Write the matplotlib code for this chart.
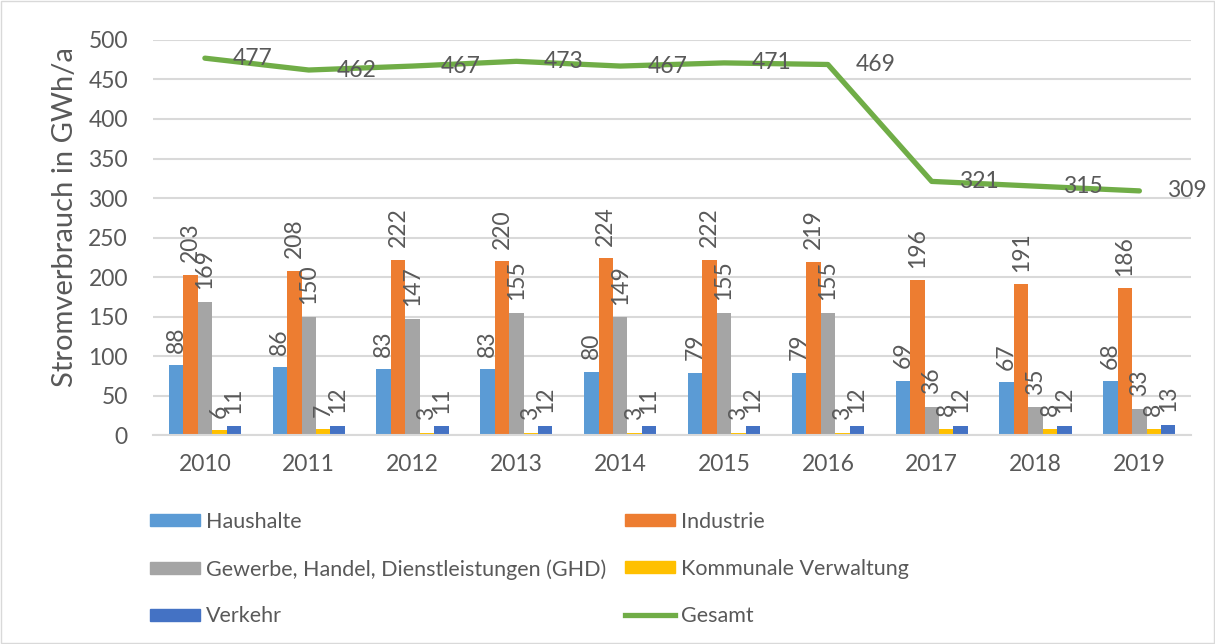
#!/usr/bin/env python3

import numpy as np
import matplotlib.pyplot as plt
from matplotlib.patches import Rectangle
from matplotlib.lines import Line2D

plt.rcParams['font.family'] = ['Lato', 'DejaVu Sans']

# data
years = ['2010', '2011', '2012', '2013', '2014', '2015', '2016', '2017', '2018', '2019']
haushalte = [88, 86, 83, 83, 80, 79, 79, 69, 67, 68]
industrie = [203, 208, 222, 220, 224, 222, 219, 196, 191, 186]
ghd = [169, 150, 147, 155, 149, 155, 155, 36, 35, 33]
kommunal = [6, 7, 3, 3, 3, 3, 3, 8, 8, 8]
verkehr = [11, 12, 11, 12, 11, 12, 12, 12, 12, 13]
gesamt = [477, 462, 467, 473, 467, 471, 469, 321, 315, 309]

series = [
    ('Haushalte', haushalte, '#5B9BD5'),
    ('Industrie', industrie, '#ED7D31'),
    ('Gewerbe, Handel, Dienstleistungen (GHD)', ghd, '#A5A5A5'),
    ('Kommunale Verwaltung', kommunal, '#FFC000'),
    ('Verkehr', verkehr, '#4472C4'),
]
line_color = '#70AD47'
text_color = '#595959'
fs = 16.5

fig = plt.figure(figsize=(12.15, 6.44), dpi=100)
ax = fig.add_axes([0.1259, 0.3245, 0.8546, 0.6134])

x = np.arange(len(years))
bw = 0.139
offsets = (np.arange(len(series)) - 2) * bw

for (name, vals, col), off in zip(series, offsets):
    bars = ax.bar(x + off, vals, width=bw, color=col, label=name, zorder=2)
    for b, v in zip(bars, vals):
        ax.annotate(str(v), (b.get_x() + b.get_width() / 2, v),
                    xytext=(0, 9), textcoords='offset points',
                    rotation=90, ha='center', va='bottom',
                    fontsize=fs, color=text_color)

ax.plot(x, gesamt, color=line_color, lw=3.8, label='Gesamt', zorder=3,
        solid_capstyle='round')
for xi, v in zip(x, gesamt):
    ax.annotate(str(v), (xi, v), xytext=(20, 0), textcoords='offset points',
                ha='left', va='center', fontsize=fs, color=text_color, zorder=4)

ax.set_xlim(-0.5, len(years) - 0.5)
ax.set_ylim(0, 500)
ax.set_yticks(np.arange(0, 501, 50))
ax.set_xticks(x)
ax.set_xticklabels(years)
ax.tick_params(axis='both', length=0, labelsize=fs, colors=text_color)
ax.tick_params(axis='x', pad=14)
ax.tick_params(axis='y', pad=18)
ax.yaxis.grid(True, color='#D9D9D9', lw=1.5, zorder=0)
ax.set_axisbelow(True)
for s in ['top', 'right', 'left']:
    ax.spines[s].set_visible(False)
ax.spines['bottom'].set_color('#D9D9D9')
ax.spines['bottom'].set_linewidth(1.5)
fig.text(65 / 1215, 1 - 217 / 644, 'Stromverbrauch in GWh/a', rotation=90,
         ha='center', va='center', fontsize=21, color=text_color)

# legend: two columns placed separately
handles = [Rectangle((0, 0), 1, 1, color=c) for _, _, c in series]
handles.append(Line2D([0], [0], color=line_color, lw=3.8))
labels = [n for n, _, _ in series] + ['Gesamt']
leg_kw = dict(loc='upper left', frameon=False, fontsize=15.5, handlelength=2.3,
              handleheight=0.5, handletextpad=0.3, labelspacing=1.25,
              borderpad=0, borderaxespad=0, labelcolor=text_color)
for cols, x0 in [([0, 2, 4], 150), ([1, 3, 5], 625)]:
    fig.legend([handles[i] for i in cols], [labels[i] for i in cols],
               bbox_to_anchor=(x0 / 1215, 1 - 512 / 644), **leg_kw)

# chart area border
fig.patches.append(Rectangle((0.001, 0.002), 0.998, 0.996, transform=fig.transFigure,
                             fill=False, edgecolor='#D9D9D9', lw=1))

fig.savefig('out.png', dpi=100)
